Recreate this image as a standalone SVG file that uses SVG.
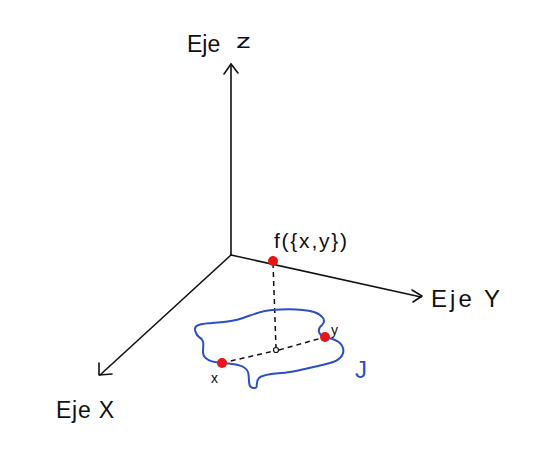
<svg xmlns="http://www.w3.org/2000/svg" width="543" height="459" viewBox="0 0 543 459">
<style>
.ax{fill:none;stroke:#111;stroke-width:1.6;stroke-linecap:round;stroke-linejoin:round}
.dash{fill:none;stroke:#111;stroke-width:1.5;stroke-dasharray:5 4}
.lbl{font-family:"Liberation Sans",Arial,sans-serif;fill:#111}
.pt{fill:#e8161b}
</style>
<rect width="543" height="459" fill="#fff"/>
<g id="connectors">
<path class="ax" d="M231,255 L231,64"/>
<path class="ax" d="M224,74 L231,64 L238,73"/>
<path class="ax" d="M231,255 L421,297"/>
<path class="ax" d="M412,290 L422,296 L413,302"/>
<path class="ax" d="M231,255 L100,375"/>
<path class="ax" d="M99,363 L99,375 L112,374"/>
<path class="dash" d="M273,263 L276,348"/>
<path class="dash" d="M222,363 L274,351 M279,350 L325,337"/>
</g>
<g id="axis-z"><text class="lbl" x="187" y="52" font-size="23">Eje</text><text class="lbl" x="236" y="48" font-size="21" textLength="15" lengthAdjust="spacingAndGlyphs">z</text></g>
<g id="axis-y"><text class="lbl" x="431" y="307" font-size="24" textLength="69" lengthAdjust="spacing">Eje Y</text></g>
<g id="axis-x"><text class="lbl" x="56" y="418" font-size="23" textLength="58" lengthAdjust="spacing">Eje X</text></g>
<g id="region-J">
<path fill="none" stroke="#2a4fc8" stroke-width="2" stroke-linejoin="round" d="M195,330 C194,324 203,324 212,323 C222,322 232,322 243,318 C252,315 260,311 272,310 C285,309 303,309 314,312 C322,315 327,320 322,325 C317,329 318,335 325,337 C333,339 341,341 343,348 C345,356 338,361 330,363 C318,366 302,370 290,372 C278,374 264,373 259,378 C254,383 260,389 253,388 C247,387 250,378 248,372 C245,364 232,364 222,363 C212,362 203,360 203,352 C203,345 205,340 199,337 C196,335 196,333 195,330 Z"/>
<text x="355" y="378" font-family="Liberation Sans,Arial,sans-serif" font-size="24" fill="#2a4fc8">J</text>
</g>
<g id="origin-point"><circle cx="276" cy="350" r="2.5" fill="#fff" stroke="#111" stroke-width="1.2"/></g>
<g id="point-x"><circle class="pt" cx="222" cy="363" r="5"/><text class="lbl" x="211" y="383" font-size="14">x</text></g>
<g id="point-y"><circle class="pt" cx="325" cy="337" r="5"/><text class="lbl" x="331" y="335" font-size="14">y</text></g>
<g id="point-f"><circle class="pt" cx="273" cy="261" r="5"/><text class="lbl" x="274" y="248" font-size="21" textLength="73" lengthAdjust="spacing">f({x,y})</text></g>
</svg>
